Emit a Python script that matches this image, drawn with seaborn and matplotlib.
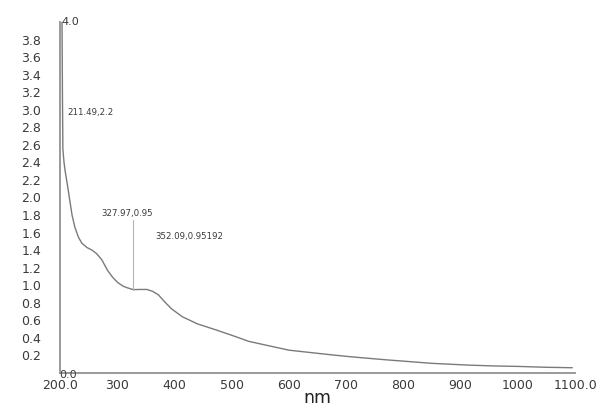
import matplotlib
matplotlib.use("Agg")
import matplotlib.pyplot as plt
import seaborn as sns
import pandas as pd

# Absorbance spectrum (wavelength in nm, absorbance)
wavelength = [203.5, 204.2, 205, 207, 209, 211.49, 214, 217, 221, 226, 232, 238,
              247, 256, 264, 273, 283, 292, 301, 310, 318, 327.97, 340, 352.09,
              362, 372, 383, 395, 414, 440, 473, 500, 530, 565, 600, 635, 670,
              700, 734, 770, 800, 850, 913, 960, 1000, 1050, 1095]
absorbance = [4.0, 3.2, 2.55, 2.4, 2.3, 2.2, 2.1, 1.97, 1.8, 1.66, 1.55, 1.48,
              1.43, 1.40, 1.36, 1.29, 1.17, 1.09, 1.03, 0.99, 0.97, 0.95, 0.952,
              0.95192, 0.93, 0.89, 0.81, 0.73, 0.64, 0.56, 0.49, 0.43, 0.36, 0.31,
              0.26, 0.235, 0.21, 0.19, 0.17, 0.15, 0.135, 0.11, 0.09, 0.08, 0.075,
              0.065, 0.06]

# Peak annotations: (wavelength, absorbance, label)
peak_nm = [211.49, 327.97, 352.09]
peak_abs = [2.2, 0.95, 0.95192]
peak_text = ["211.49,2.2", "327.97,0.95", "352.09,0.95192"]

x_ticks = [200, 300, 400, 500, 600, 700, 800, 900, 1000, 1100]
x_tick_labels = ["200.0", "300", "400", "500", "600", "700", "800", "900", "1000", "1100.0"]
y_ticks = [0.2, 0.4, 0.6, 0.8, 1.0, 1.2, 1.4, 1.6, 1.8, 2.0, 2.2, 2.4, 2.6, 2.8,
           3.0, 3.2, 3.4, 3.6, 3.8]

sns.set_theme(style="white")
plt.rcParams["font.family"] = ["DejaVu Sans"]

df = pd.DataFrame({"nm": wavelength, "abs": absorbance})

fig = plt.figure(figsize=(5.96, 4.08), dpi=100)
ax = fig.add_axes([0.1007, 0.0858, 0.8643, 0.8603])

sns.lineplot(data=df, x="nm", y="abs", ax=ax, color="#7a7a7a", linewidth=1.0,
             sort=False, estimator=None)

ax.set_xlim(200, 1100)
ax.set_ylim(0, 4.0)

ax.set_xticks(x_ticks)
ax.set_xticklabels(x_tick_labels)
ax.set_yticks(y_ticks)
ax.set_yticklabels([f"{v:.1f}" for v in y_ticks])
ax.tick_params(axis="both", labelsize=9, colors="#9a9a9a", labelcolor="#3a3a3a",
               length=2.5, width=0.8, direction="out", pad=2)
ax.tick_params(axis="y", pad=11)

for side in ["top", "right"]:
    ax.spines[side].set_visible(False)
for side in ["left", "bottom"]:
    ax.spines[side].set_color("#9a9a9a")
    ax.spines[side].set_linewidth(1.4)

# Axis end values drawn beside the spine
ax.text(203, 4.0, "4.0", fontsize=8, color="#3a3a3a", ha="left", va="center",
        clip_on=False)
ax.text(199.5, -0.02, "0.0", fontsize=8, color="#3a3a3a", ha="left", va="center",
        clip_on=False)

# Peak labels
label_pos = [(212.5, 2.97), (272.0, 1.82), (366.0, 1.56)]
for (lx, ly), txt in zip(label_pos, peak_text):
    ax.text(lx, ly, txt, fontsize=6.2, color="#3a3a3a", ha="left", va="center")

# Leader line for the 327.97 nm shoulder
ax.plot([peak_nm[1], peak_nm[1]], [peak_abs[1], 1.74], color="#b5b5b5", linewidth=0.8)

ax.set_xlabel("nm", fontsize=12.5, color="#222222", labelpad=-2)
ax.set_ylabel("")

fig.savefig("out.png", dpi=100, facecolor="white")
